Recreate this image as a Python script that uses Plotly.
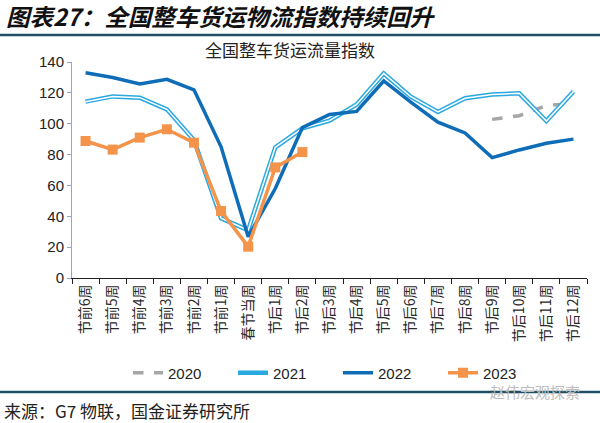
import plotly.graph_objects as go

categories = ["节前6周", "节前5周", "节前4周", "节前3周", "节前2周", "节前1周", "春节当周",
              "节后1周", "节后2周", "节后3周", "节后4周", "节后5周", "节后6周", "节后7周",
              "节后8周", "节后9周", "节后10周", "节后11周", "节后12周"]
v2020 = [None] * 15 + [102.8, 105.2, 111.7, 113.2]
v2021 = [114.3, 117.7, 116.9, 109.3, 89.4, 38.7, 31.0, 84.7, 97.0, 102.0, 112.5, 132.6,
         117.5, 107.6, 116.5, 119.0, 119.7, 101.7, 120.8]
v2022 = [133.0, 130.0, 125.8, 128.8, 122.0, 85.0, 26.8, 58.0, 97.5, 106.0, 108.0, 127.7,
         114.0, 101.0, 94.0, 78.0, 83.0, 87.3, 90.0]
v2023 = [88.8, 83.2, 91.0, 96.4, 87.7, 43.4, 20.3, 71.7, 81.6]
y_ticks = [0, 20, 40, 60, 80, 100, 120, 140]

L, R, T, B = 72, 587, 62, 278
W, H = 600, 423

def xp(px):
    return (px - L) / (R - L)

def yp(py):
    return (B - py) / (B - T)

fig = go.Figure()
fig.add_trace(go.Scatter(x=categories, y=v2020, name="2020", mode="lines",
                         line=dict(color="#A6A6A6", width=3.5, dash="dash")))
fig.add_trace(go.Scatter(x=categories, y=v2021, name="2021", mode="lines",
                         line=dict(color="#2AA8E0", width=4.5)))
fig.add_trace(go.Scatter(x=categories, y=v2021, name="2021w", mode="lines", showlegend=False,
                         hoverinfo="skip", line=dict(color="white", width=1.5)))
fig.add_trace(go.Scatter(x=categories, y=v2022, name="2022", mode="lines",
                         line=dict(color="#0F6DB8", width=3.5)))
fig.add_trace(go.Scatter(x=categories[:len(v2023)], y=v2023, name="2023", mode="lines+markers",
                         line=dict(color="#F4934A", width=3.5),
                         marker=dict(symbol="square", size=10, color="#F4934A")))

font_cjk = "Noto Sans CJK SC"
fig.update_layout(
    width=W, height=H,
    margin=dict(l=L, r=W - R, t=T, b=H - B),
    plot_bgcolor="white", paper_bgcolor="white",
    font=dict(family="Liberation Sans, " + font_cjk, color="#333333"),
    showlegend=True,
    legend=dict(orientation="h", x=xp(128), y=yp(373), xanchor="left", yanchor="middle",
                font=dict(size=15, color="#222222", family="Liberation Sans"),
                entrywidth=60, entrywidthmode="pixels",
                tracegroupgap=0, bgcolor="rgba(0,0,0,0)"),
    xaxis=dict(type="category", showgrid=False, showline=True, linecolor="#222222", linewidth=1,
               ticks="outside", tickson="boundaries", ticklen=5, tickcolor="#222222",
               tickangle=-90, tickfont=dict(size=14, family=font_cjk, color="#2a2a2a"),
               range=[-0.5, len(categories) - 0.5], zeroline=False),
    yaxis=dict(range=[0, 140], tickvals=y_ticks, showgrid=False, showline=True,
               linecolor="#8FA6D6", linewidth=1, ticks="outside", ticklen=4,
               tickcolor="#8FA6D6", tickfont=dict(size=15, family="Liberation Sans", color="#222222"),
               zeroline=False),
)

# header
fig.add_annotation(text="<b><i>图表27：全国整车货运物流指数持续回升</i></b>", x=xp(4), y=yp(16),
                   xref="paper", yref="paper", xanchor="left", yanchor="middle", showarrow=False,
                   font=dict(size=23.5, family=font_cjk, color="#111111"))
fig.add_shape(type="line", xref="paper", yref="paper", x0=xp(0), x1=xp(600), y0=yp(35), y1=yp(35),
              line=dict(color="#1E4F66", width=2.5))
fig.add_annotation(text="全国整车货运流量指数", x=xp(290), y=yp(50), xref="paper", yref="paper",
                   xanchor="center", yanchor="middle", showarrow=False,
                   font=dict(size=17, family=font_cjk, color="#222222"))
fig.add_shape(type="line", xref="paper", yref="paper", x0=xp(0), x1=xp(600), y0=yp(392), y1=yp(392),
              line=dict(color="#1E4F66", width=2.5))
fig.add_annotation(text="来源：G7 物联，国金证券研究所", x=xp(2), y=yp(410), xref="paper", yref="paper",
                   xanchor="left", yanchor="middle", showarrow=False,
                   font=dict(size=17, family=font_cjk, color="#222222"))
fig.add_annotation(text="赵伟宏观探索", x=xp(582), y=yp(391), xref="paper", yref="paper",
                   xanchor="right", yanchor="middle", showarrow=False,
                   font=dict(size=15, family=font_cjk, color="#BDBDBD"))

fig.write_html("out.html")
